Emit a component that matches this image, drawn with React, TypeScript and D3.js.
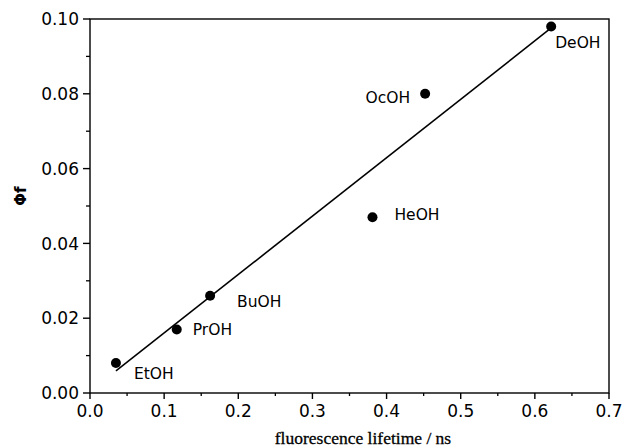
import React from "react";
import * as d3 from "d3";

const solvents = ["EtOH", "PrOH", "BuOH", "HeOH", "OcOH", "DeOH"];
const lifetimes = [0.035, 0.117, 0.162, 0.381, 0.452, 0.622];
const quantumYields = [0.008, 0.017, 0.026, 0.047, 0.08, 0.098];
// label offsets in px (dx, dy, anchor)
const labelDx = [18, 16, 27, 22, -15, 4];
const labelDy = [10, 0, 6, -3, 4, 16];
const labelAnchor = ["start", "start", "start", "start", "end", "start"];

const fitX = [0.035, 0.622];
const fitY = [0.0059, 0.0976];

const xTicks = [0, 0.1, 0.2, 0.3, 0.4, 0.5, 0.6, 0.7];
const xMinor = [0.05, 0.15, 0.25, 0.35, 0.45, 0.55, 0.65];
const yTicks = [0, 0.02, 0.04, 0.06, 0.08, 0.1];
const yMinor = [0.01, 0.03, 0.05, 0.07, 0.09];

const W = 623;
const H = 448;
const left = 90, right = 609, top = 19, bottom = 393;

export default function App() {
  const x = d3.scaleLinear().domain([0, 0.7]).range([left, right]);
  const y = d3.scaleLinear().domain([0, 0.1]).range([bottom, top]);
  const line = d3
    .line<number>()
    .x((d) => x(d))
    .y((_, i) => y(fitY[i]));
  const tickFont = "'DejaVu Sans', sans-serif";
  return (
    <svg
      width={W}
      height={H}
      style={{ position: "absolute", left: 0, top: 0, background: "#fff" }}
    >
      <rect x={left} y={top} width={right - left} height={bottom - top} fill="none" stroke="#000" strokeWidth={1.4} />
      {xTicks.map((t) => (
        <g key={"xt" + t}>
          <line x1={x(t)} x2={x(t)} y1={bottom} y2={bottom + 6} stroke="#000" strokeWidth={1.4} />
          <text x={x(t)} y={417} textAnchor="middle" fontFamily={tickFont} fontSize={17} fill="#000">
            {t.toFixed(1)}
          </text>
        </g>
      ))}
      {xMinor.map((t) => (
        <line key={"xm" + t} x1={x(t)} x2={x(t)} y1={bottom} y2={bottom + 3} stroke="#000" strokeWidth={1.3} />
      ))}
      {yTicks.map((t) => (
        <g key={"yt" + t}>
          <line x1={left - 7} x2={left} y1={y(t)} y2={y(t)} stroke="#000" strokeWidth={1.4} />
          <text x={79} y={y(t)} dy="0.36em" textAnchor="end" fontFamily={tickFont} fontSize={17} fill="#000">
            {t.toFixed(2)}
          </text>
        </g>
      ))}
      {yMinor.map((t) => (
        <line key={"ym" + t} x1={left - 4} x2={left} y1={y(t)} y2={y(t)} stroke="#000" strokeWidth={1.3} />
      ))}
      <path d={line(fitX) || ""} fill="none" stroke="#000" strokeWidth={1.6} />
      {solvents.map((s, i) => (
        <g key={s}>
          <circle cx={x(lifetimes[i])} cy={y(quantumYields[i])} r={5} fill="#000" />
          <text
            x={x(lifetimes[i]) + labelDx[i]}
            y={y(quantumYields[i]) + labelDy[i]}
            dy="0.36em"
            textAnchor={labelAnchor[i]}
            fontFamily={tickFont}
            fontSize={15.5}
            fill="#000"
          >
            {s}
          </text>
        </g>
      ))}
      <text
        x={363}
        y={444}
        textAnchor="middle"
        fontFamily="'Liberation Serif', serif"
        fontSize={17.5}
        fill="#000"
        stroke="#000"
        strokeWidth={0.3}
      >
        fluorescence lifetime / ns
      </text>
      <text
        transform="translate(26,196) rotate(-90)"
        textAnchor="middle"
        fontFamily="'DejaVu Sans', sans-serif"
        fontWeight="bold"
        fontSize={15}
        fill="#000"
      >
        Φf
      </text>
    </svg>
  );
}
